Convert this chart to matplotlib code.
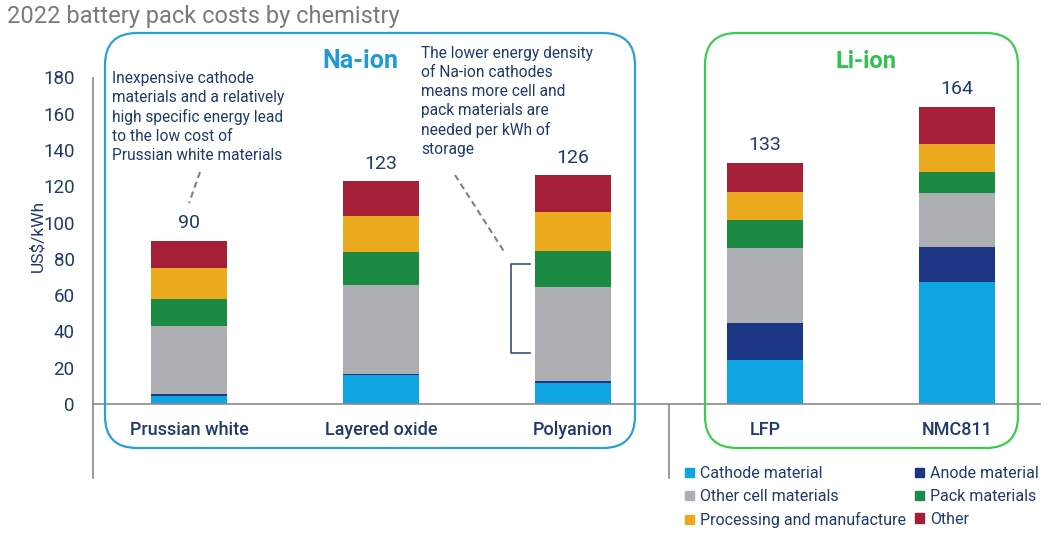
import matplotlib
matplotlib.use("Agg")
import matplotlib.pyplot as plt
from matplotlib.patches import FancyBboxPatch, Patch
from matplotlib.lines import Line2D
import numpy as np

plt.rcParams['font.family'] = ['Roboto', 'DejaVu Sans']

# data (US$/kWh)
chemistries = ["Prussian white", "Layered oxide", "Polyanion", "LFP", "NMC811"]
totals = [90, 123, 126, 133, 164]
cathode = [4.4, 16.0, 11.8, 24.0, 67.0]
anode = [1.1, 0.6, 1.1, 20.5, 19.3]
other_cell = [37.6, 49.1, 51.5, 41.6, 30.0]
pack = [14.7, 17.9, 19.7, 15.3, 11.4]
processing = [17.1, 20.3, 21.7, 15.6, 15.9]
other = [15.1, 19.1, 20.2, 16.0, 20.4]

components = ["Cathode material", "Anode material", "Other cell materials",
              "Pack materials", "Processing and manufacture", "Other"]
colors = ["#0ea4e2", "#1b3784", "#adafb2", "#1b8a43", "#eba91e", "#a51f36"]
navy = "#1f3a6b"

W, H = 1050, 533
fig = plt.figure(figsize=(W / 100, H / 100), dpi=100)

def fx(px): return px / W
def fy(py): return 1 - py / H

ax = fig.add_axes([fx(92.7), fy(404), fx(1040) - fx(92.7), fy(77.5) - fy(404)])
x = np.arange(len(chemistries))
bottom = np.zeros(len(chemistries))
for vals, c in zip([cathode, anode, other_cell, pack, processing, other], colors):
    ax.bar(x, vals, 0.40, bottom=bottom, color=c, linewidth=0)
    bottom += np.array(vals)

for xi, t in zip(x, totals):
    ax.annotate(str(t), (xi, t), xytext=(0, 6), textcoords="offset points",
                ha="center", va="bottom", fontsize=14, color=navy)

ax.set_xlim(-0.502, 4.432)
ax.set_ylim(0, 180)
ax.set_yticks(range(0, 181, 20))
ax.tick_params(axis="y", length=0, pad=13, labelsize=13.5, labelcolor=navy)
ax.set_xticks(x)
ax.set_xticklabels(chemistries, fontsize=13, color=navy, fontweight="medium")
ax.tick_params(axis="x", length=0, pad=12)
for s in ["top", "right"]:
    ax.spines[s].set_visible(False)
for s in ["left", "bottom"]:
    ax.spines[s].set_color("#8a8a8a")
    ax.spines[s].set_linewidth(1.2)
ax.text(-0.058, 92.7, "US$/kWh", transform=ax.get_yaxis_transform(), rotation=90,
        ha="center", va="center", fontsize=12.5, color=navy)

# extra axis lines below baseline
fig.add_artist(Line2D([fx(92.7)] * 2, [fy(404), fy(478)], color="#8a8a8a", lw=1.2))
fig.add_artist(Line2D([fx(669)] * 2, [fy(404), fy(478)], color="#8a8a8a", lw=1.2))

# group boxes (in inches for round corners)
def box(x0, y0, x1, y1, color):
    p = FancyBboxPatch((x0 / 100, (H - y1) / 100), (x1 - x0) / 100, (y1 - y0) / 100,
                       boxstyle="round,pad=0,rounding_size=0.32",
                       transform=fig.dpi_scale_trans, fill=False, ec=color, lw=1.6)
    fig.add_artist(p)

box(105, 33, 635, 448, "#2a9fd8")
box(705, 33, 1018, 448, "#3ccc4f")
fig.text(fx(360), fy(61), "Na-ion", ha="center", va="center", fontsize=18,
         fontweight="bold", color="#1e9ad6")
fig.text(fx(866), fy(62), "Li-ion", ha="center", va="center", fontsize=17,
         fontweight="bold", color="#2ec44a")

fig.text(fx(7), fy(16), "2022 battery pack costs by chemistry", ha="left", va="center",
         fontsize=17, color="#7a7a7a")

fig.text(fx(112), fy(71), "Inexpensive cathode\nmaterials and a relatively\nhigh specific energy lead\n"
         "to the low cost of\nPrussian white materials", ha="left", va="top",
         fontsize=11.2, color=navy, linespacing=1.33)
fig.text(fx(421), fy(46), "The lower energy density\nof Na-ion cathodes\nmeans more cell and\n"
         "pack materials are\nneeded per kWh of\nstorage", ha="left", va="top",
         fontsize=11.2, color=navy, linespacing=1.33)

fig.add_artist(Line2D([fx(200), fx(189)], [fy(172), fy(203)], color="#808080", lw=1.5, ls=(0, (3, 2))))
fig.add_artist(Line2D([fx(455), fx(505)], [fy(175), fy(253)], color="#808080", lw=1.5, ls=(0, (3, 2))))
fig.add_artist(Line2D([fx(530), fx(510.7), fx(510.7), fx(530)],
                      [fy(264), fy(264), fy(353), fy(353)], color="#3b4f7a", lw=1.2))

handles = [Patch(color=colors[i]) for i in [0, 2, 4, 1, 3, 5]]
labels = [components[i] for i in [0, 2, 4, 1, 3, 5]]
leg = fig.legend(handles, labels, ncol=2, loc="upper left", bbox_to_anchor=(fx(677), fy(458)),
                 frameon=False, fontsize=11.5, handlelength=0.55, handleheight=0.55,
                 handletextpad=0.4, columnspacing=0.55, labelspacing=0.5, borderpad=0)
for t in leg.get_texts():
    t.set_color(navy)

fig.savefig("out.png", dpi=100)
